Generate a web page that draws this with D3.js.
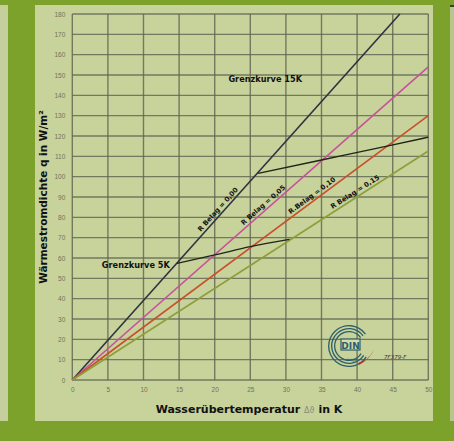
<!DOCTYPE html>
<html>
<head>
<meta charset="utf-8">
<script src="https://cdn.jsdelivr.net/npm/d3@7"></script>
<style>
  body { margin: 0; background: #7da22c; }
  svg { display: block; }
</style>
</head>
<body>
<div id="chart"></div>
<script>
// tick values
var xTicks = [0, 5, 10, 15, 20, 25, 30, 35, 40, 45, 50];
var yTicks = [0, 10, 20, 30, 40, 50, 60, 70, 80, 90, 100, 110, 120, 130, 140, 150, 160, 170, 180];

// characteristic lines (Δϑ, q)
var curveNames = ["R Belag = 0,00", "R Belag = 0,05", "R.Belag = 0,10", "R Belag = 0,15"];
var curve000 = [[0, 0], [46, 180]];
var curve005 = [[0, 0], [50, 154]];
var curve010 = [[0, 0], [50, 130]];
var curve015 = [[0, 0], [50, 112.6]];
var labelAt = [21, 27.3, 34.1, 40.1];

// limit curves
var grenz15 = [[26.1, 101.6], [35, 108.2], [44.2, 115], [50, 119.4]];
var grenz5 = [[14.7, 57.4], [20, 61.5], [25, 65.6], [30.5, 69.2]];

var W = 454, H = 441;
var svg = d3.select("#chart").append("svg")
    .attr("width", W)
    .attr("height", H);

// frame: green background, side strips and main panel
svg.append("rect").attr("x", 0).attr("y", 0).attr("width", W).attr("height", H).attr("fill", "#7da22c");
svg.append("rect").attr("x", 0).attr("y", 5).attr("width", 8).attr("height", 416).attr("fill", "#c5cf9c");
svg.append("rect").attr("x", 450).attr("y", 5).attr("width", 4).attr("height", 416).attr("fill", "#b9c58c");
svg.append("rect").attr("x", 450).attr("y", 5).attr("width", 4).attr("height", 2).attr("fill", "#39402a");
svg.append("rect").attr("x", 35).attr("y", 5).attr("width", 398).attr("height", 416).attr("fill", "#c8d29b");

var x = d3.scaleLinear().domain([0, 50]).range([72.3, 428.3]);
var y = d3.scaleLinear().domain([0, 180]).range([380, 14]);

// grid
var grid = svg.append("g");
grid.selectAll("line.v").data(xTicks).enter().append("line")
    .attr("x1", function(d) { return x(d); }).attr("x2", function(d) { return x(d); })
    .attr("y1", y(180)).attr("y2", y(0))
    .attr("stroke", "#5e6450").attr("stroke-width", 1.4).attr("opacity", 0.8);
grid.selectAll("line.h").data(yTicks).enter().append("line")
    .attr("x1", x(0)).attr("x2", x(50))
    .attr("y1", function(d) { return y(d); }).attr("y2", function(d) { return y(d); })
    .attr("stroke", "#5e6450").attr("stroke-width", 1.4).attr("opacity", 0.8);

// axes labels
var xAxis = d3.axisBottom(x).tickValues(xTicks).tickSize(0).tickPadding(7);
var yAxis = d3.axisLeft(y).tickValues(yTicks).tickSize(0).tickPadding(7);
var gx = svg.append("g").attr("transform", "translate(0," + y(0) + ")").call(xAxis);
var gy = svg.append("g").attr("transform", "translate(" + x(0) + ",0)").call(yAxis);
[gx, gy].forEach(function(g) {
  g.select(".domain").remove();
  g.selectAll("text")
    .attr("fill", "#6f735e")
    .style("font-family", "Liberation Sans, Arial, sans-serif")
    .style("font-size", "6.5px");
});

// axis titles
svg.append("text")
    .attr("x", 249).attr("y", 413)
    .attr("text-anchor", "middle")
    .style("font-family", "DejaVu Sans, sans-serif")
    .style("font-weight", "bold")
    .style("font-size", "11px")
    .attr("fill", "#111")
    .html('Wasserübertemperatur <tspan font-weight="normal" fill="#8a8d78" font-size="8px">Δϑ</tspan> in K');

svg.append("text")
    .attr("transform", "translate(47,197) rotate(-90)")
    .attr("text-anchor", "middle")
    .style("font-family", "DejaVu Sans, sans-serif")
    .style("font-weight", "bold")
    .style("font-size", "10.5px")
    .attr("fill", "#111")
    .text("Wärmestromdichte q in W/m²");

var line = d3.line()
    .x(function(d) { return x(d[0]); })
    .y(function(d) { return y(d[1]); });

var curves = [curve000, curve005, curve010, curve015];
var colors = ["#2d3340", "#c9509c", "#c8502c", "#8e9e3a"];

svg.selectAll("path.curve").data(curves).enter().append("path")
    .attr("class", "curve")
    .attr("d", line)
    .attr("fill", "none")
    .attr("stroke", function(d, i) { return colors[i]; })
    .attr("stroke-width", 1.6);

var grenzLine = d3.line()
    .x(function(d) { return x(d[0]); })
    .y(function(d) { return y(d[1]); })
    .curve(d3.curveMonotoneX);

[grenz15, grenz5].forEach(function(g) {
  svg.append("path")
    .attr("d", grenzLine(g))
    .attr("fill", "none")
    .attr("stroke", "#1e2418")
    .attr("stroke-width", 1.3);
});

// labels along lines
curves.forEach(function(c, i) {
  var p0 = c[0], p1 = c[c.length - 1];
  var t = labelAt[i];
  var q = p0[1] + (p1[1] - p0[1]) * (t - p0[0]) / (p1[0] - p0[0]);
  var ang = Math.atan2(y(p1[1]) - y(p0[1]), x(p1[0]) - x(p0[0])) * 180 / Math.PI;
  svg.append("text")
    .attr("transform", "translate(" + x(t) + "," + y(q) + ") rotate(" + ang + ")")
    .attr("y", -3)
    .attr("text-anchor", "middle")
    .style("font-family", "DejaVu Sans, sans-serif")
    .style("font-weight", "bold")
    .style("font-size", "6.8px")
    .attr("fill", "#111")
    .text(curveNames[i]);
});

svg.append("text")
    .attr("x", x(27.1)).attr("y", y(146.5))
    .attr("text-anchor", "middle")
    .style("font-family", "DejaVu Sans, sans-serif")
    .style("font-weight", "bold")
    .style("font-size", "8.2px")
    .attr("fill", "#111")
    .text("Grenzkurve 15K");

svg.append("text")
    .attr("x", x(13.7)).attr("y", y(55))
    .attr("text-anchor", "end")
    .style("font-family", "DejaVu Sans, sans-serif")
    .style("font-weight", "bold")
    .style("font-size", "8.2px")
    .attr("fill", "#111")
    .text("Grenzkurve 5K");

// DIN logo
var logo = svg.append("g").attr("transform", "translate(349,346)");
var arc = d3.arc();
[21, 18, 15].forEach(function(r) {
  logo.append("path")
    .attr("d", arc({innerRadius: r - 1.3, outerRadius: r, startAngle: 0.68 * Math.PI, endAngle: 2.3 * Math.PI}))
    .attr("fill", "#2d5f6a");
});
logo.append("rect").attr("x", -8).attr("y", -7).attr("width", 19).attr("height", 11)
    .attr("fill", "#d4dcb0").attr("stroke", "#2d5f6a").attr("stroke-width", 1.2);
logo.append("text").attr("x", 1.5).attr("y", 2.5).attr("text-anchor", "middle")
    .style("font-family", "DejaVu Sans, sans-serif").style("font-weight", "bold")
    .style("font-size", "9px").attr("fill", "#2d5f6a").text("DIN");
logo.append("path")
    .attr("d", "M9,17 Q19,15 25,4 Q21,13 10,19 Z")
    .attr("fill", "#c0302a");
logo.append("text").attr("x", 3).attr("y", 15).attr("text-anchor", "middle")
    .style("font-family", "DejaVu Sans, sans-serif").style("font-size", "4px")
    .attr("fill", "#2d5f6a").text("Logo");
svg.append("text").attr("x", 384).attr("y", 359)
    .style("font-family", "DejaVu Sans, sans-serif").style("font-style", "italic")
    .style("font-size", "5.5px").attr("fill", "#333").text("7F379-F");
</script>
</body>
</html>
